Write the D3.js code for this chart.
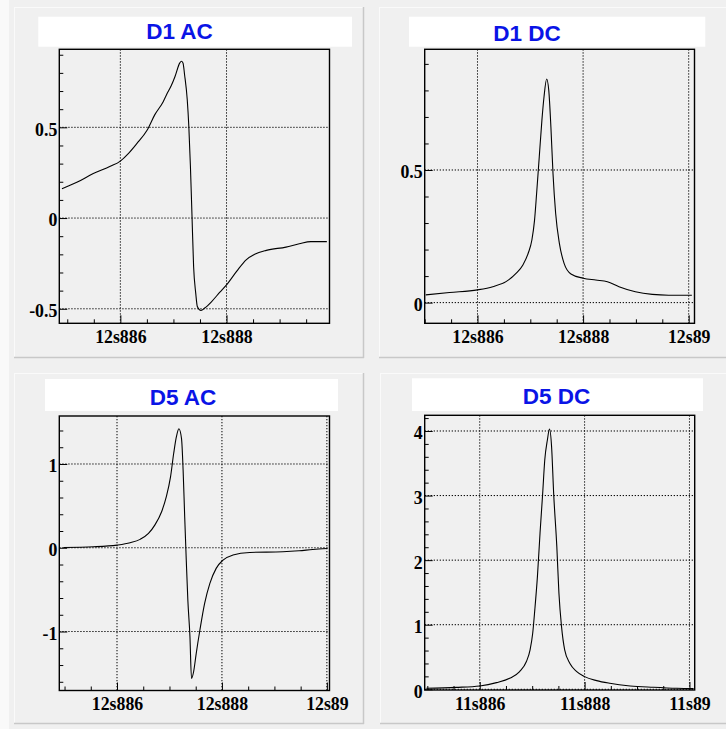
<!DOCTYPE html>
<html>
<head>
<meta charset="utf-8">
<script src="https://cdn.jsdelivr.net/npm/d3@7"></script>
<style>
  html, body { margin: 0; padding: 0; background: #f0f0f0; }
  svg { display: block; }
</style>
</head>
<body>
<svg id="chart" width="726" height="729"></svg>
<script>
// ---------------- DATA ----------------
// x values: milliseconds after the whole second (label prefix gives the seconds)
const panelTitles = ["D1 AC", "D1 DC", "D5 AC", "D5 DC"];
const secondsPrefix = ["12s", "12s", "12s", "11s"];

const d1acT = [884.90, 885.18, 885.49, 885.81, 886.00, 886.15, 886.31, 886.50, 886.65, 886.81, 886.87, 886.96, 887.03, 887.12, 887.15, 887.18, 887.21, 887.26, 887.29, 887.32, 887.35, 887.38, 887.42, 887.45, 887.52, 887.59, 887.72, 887.87, 888.00, 888.19, 888.37, 888.53, 888.75, 889.12, 889.37, 889.59, 889.89];
const d1acV = [0.162, 0.197, 0.245, 0.285, 0.314, 0.355, 0.41, 0.482, 0.57, 0.643, 0.68, 0.73, 0.78, 0.855, 0.864, 0.855, 0.79, 0.653, 0.505, 0.285, 0.009, -0.267, -0.414, -0.487, -0.509, -0.496, -0.46, -0.41, -0.368, -0.294, -0.23, -0.2, -0.178, -0.16, -0.142, -0.13, -0.13];

const d1dcT = [885.02, 885.47, 886.00, 886.29, 886.54, 886.73, 886.86, 886.96, 887.03, 887.08, 887.12, 887.17, 887.22, 887.26, 887.31, 887.35, 887.39, 887.43, 887.48, 887.55, 887.64, 887.77, 888.00, 888.24, 888.46, 888.68, 888.99, 889.31, 889.62, 890.06];
const d1dcV = [0.029, 0.038, 0.048, 0.06, 0.079, 0.11, 0.142, 0.186, 0.236, 0.31, 0.412, 0.55, 0.688, 0.776, 0.843, 0.8, 0.663, 0.487, 0.337, 0.224, 0.148, 0.108, 0.092, 0.085, 0.079, 0.06, 0.041, 0.031, 0.028, 0.028];

const d5acT = [884.98, 885.55, 886.00, 886.25, 886.44, 886.60, 886.72, 886.85, 886.94, 887.02, 887.08, 887.13, 887.18, 887.23, 887.26, 887.29, 887.32, 887.35, 887.39, 887.42, 887.46, 887.51, 887.58, 887.67, 887.77, 887.89, 888.02, 888.21, 888.53, 889.16, 889.47, 889.73, 890.01];
const d5acV = [0.004, 0.012, 0.032, 0.06, 0.1, 0.171, 0.27, 0.43, 0.61, 0.847, 1.125, 1.32, 1.42, 1.30, 0.926, 0.37, -0.147, -0.624, -1.06, -1.56, -1.48, -1.26, -0.982, -0.664, -0.425, -0.246, -0.147, -0.087, -0.056, -0.048, -0.036, -0.02, -0.008];

const d5dcT = [884.98, 885.55, 886.00, 886.32, 886.57, 886.76, 886.89, 886.96, 887.01, 887.05, 887.10, 887.15, 887.20, 887.24, 887.29, 887.33, 887.37, 887.41, 887.47, 887.51, 887.56, 887.62, 887.72, 887.85, 888.00, 888.23, 888.48, 888.87, 889.31, 889.76, 890.08];
const d5dcV = [0.015, 0.03, 0.052, 0.103, 0.17, 0.274, 0.43, 0.61, 0.867, 1.23, 1.745, 2.42, 3.03, 3.55, 3.86, 4.03, 3.76, 3.03, 2.21, 1.49, 0.97, 0.61, 0.40, 0.274, 0.196, 0.134, 0.093, 0.052, 0.031, 0.015, 0.01];

// tick values and labels
const xMajor1 = [886, 888];
const xMajor2 = [886, 888, 890];
const xMsLabels = {886: "886", 888: "888", 890: "89"};
const yMajor1 = [-0.5, 0, 0.5];
const yMajor2 = [0, 0.5];
const yMajor3 = [-1, 0, 1];
const yMajor4 = [0, 1, 2, 3, 4];
const yLabels1 = ["-0.5", "0", "0.5"];
const yLabels2 = ["0", "0.5"];
const yLabels3 = ["-1", "0", "1"];
const yLabels4 = ["0", "1", "2", "3", "4"];

// ---------------- LAYOUT ----------------
const panels = [
  { t: d1acT, v: d1acV, xDom: [884.85, 889.94], yDom: [-0.58, 0.93],
    xMaj: xMajor1, yMaj: yMajor1, yLab: yLabels1, xMinStep: 0.5, yMinor: [-0.5, 0.9, 0.1],
    pad: [14, 7, 364, 358], frame: [59.3, 49.3, 329.5, 323.3],
    box: [38.3, 16.7, 352, 46.7], title: [179.5, 39] },
  { t: d1dcT, v: d1dcV, xDom: [885.0, 890.11], yDom: [-0.078, 0.955],
    xMaj: xMajor2, yMaj: yMajor2, yLab: yLabels2, xMinStep: 0.5, yMinor: [0, 0.9, 0.1],
    pad: [379, 7, 729, 358], frame: [424.7, 49.3, 694.5, 323.3],
    box: [409, 16.7, 705.3, 46.7], title: [527, 41] },
  { t: d5acT, v: d5acV, xDom: [884.9, 890.05], yDom: [-1.704, 1.573],
    xMaj: xMajor2, yMaj: yMajor3, yLab: yLabels3, xMinStep: 0.5, yMinor: [-1.6, 1.4, 0.2],
    pad: [14, 373, 364, 724], frame: [59.3, 416, 329.5, 690.5],
    box: [45, 379, 338, 411], title: [183, 405] },
  { t: d5dcT, v: d5dcV, xDom: [884.95, 890.1], yDom: [-0.011, 4.243],
    xMaj: xMajor2, yMaj: yMajor4, yLab: yLabels4, xMinStep: 0.5, yMinor: [0, 4.2, 0.2],
    pad: [380, 373, 730, 724], frame: [424.7, 415.3, 694.7, 690],
    box: [412, 378.3, 703, 411], title: [556.5, 404.3] }
];

const svg = d3.select("#chart");
svg.append("rect").attr("x", 0).attr("y", 0).attr("width", 726).attr("height", 729).attr("fill", "#f0f0f0");
svg.append("rect").attr("x", 0).attr("y", 0).attr("width", 9).attr("height", 729).attr("fill", "#f9f9f9");

const labelFont = "'Liberation Serif', 'Times New Roman', serif";
const titleFont = "'Liberation Sans', Arial, Helvetica, sans-serif";

panels.forEach((p, i) => {
  const [px0, py0, px1, py1] = p.pad;
  const g = svg.append("g");
  // pad with bevel
  g.append("rect").attr("x", px0).attr("y", py0).attr("width", px1 - px0).attr("height", py1 - py0)
    .attr("fill", "#f0f0f0");
  g.append("line").attr("x1", px0).attr("y1", py0 + 0.5).attr("x2", px1).attr("y2", py0 + 0.5)
    .attr("stroke", "#fafafa").attr("stroke-width", 1);
  g.append("line").attr("x1", px0 + 0.5).attr("y1", py0).attr("x2", px0 + 0.5).attr("y2", py1)
    .attr("stroke", "#fafafa").attr("stroke-width", 1);
  g.append("line").attr("x1", px0).attr("y1", py1 - 0.5).attr("x2", px1).attr("y2", py1 - 0.5)
    .attr("stroke", "#c8c8c8").attr("stroke-width", 1.5);
  g.append("line").attr("x1", px1 - 0.5).attr("y1", py0).attr("x2", px1 - 0.5).attr("y2", py1)
    .attr("stroke", "#c8c8c8").attr("stroke-width", 1.5);

  const [fx0, fy0, fx1, fy1] = p.frame;
  const x = d3.scaleLinear().domain(p.xDom).range([fx0, fx1]);
  const y = d3.scaleLinear().domain(p.yDom).range([fy1, fy0]);

  // frame background
  g.append("rect").attr("x", fx0).attr("y", fy0).attr("width", fx1 - fx0).attr("height", fy1 - fy0)
    .attr("fill", "#f0f0f0");

  // grid
  const gridG = g.append("g").attr("stroke", "#000").attr("stroke-width", 1)
    .attr("stroke-dasharray", "1.3,1.7");
  p.xMaj.forEach(v => {
    gridG.append("line").attr("x1", x(v)).attr("x2", x(v)).attr("y1", fy0).attr("y2", fy1);
  });
  p.yMaj.forEach(v => {
    gridG.append("line").attr("x1", fx0).attr("x2", fx1).attr("y1", y(v)).attr("y2", y(v));
  });

  // minor ticks (x)
  const xMinorVals = d3.range(Math.ceil(p.xDom[0] / p.xMinStep) * p.xMinStep, p.xDom[1] + 1e-9, p.xMinStep)
    .filter(v => !p.xMaj.some(m => Math.abs(m - v) < 1e-6));
  const xMinorAxis = d3.axisBottom(x).tickValues(xMinorVals).tickSizeInner(-4).tickSizeOuter(0).tickFormat("");
  g.append("g").attr("transform", `translate(0,${fy1})`).call(xMinorAxis)
    .call(a => a.select(".domain").remove())
    .selectAll("line").attr("stroke", "#000").attr("stroke-width", 1);

  // major x ticks with labels
  const xMajorAxis = d3.axisBottom(x).tickValues(p.xMaj).tickSizeInner(-8).tickSizeOuter(0)
    .tickPadding(0).tickFormat(v => secondsPrefix[i] + xMsLabels[v]);
  const xa = g.append("g").attr("transform", `translate(0,${fy1})`).call(xMajorAxis);
  xa.select(".domain").remove();
  xa.selectAll("line").attr("stroke", "#000").attr("stroke-width", 1);
  xa.selectAll("text").attr("y", 19.5).attr("dy", null)
    .attr("font-family", labelFont).attr("font-weight", "bold").attr("font-size", "17.8px")
    .attr("fill", "#000");

  // minor y ticks
  const [ym0, ym1, yms] = p.yMinor;
  const yMinorVals = d3.range(ym0, ym1 + 1e-9, yms).map(v => +v.toFixed(6))
    .filter(v => !p.yMaj.some(m => Math.abs(m - v) < 1e-6));
  const yMinorAxis = d3.axisLeft(y).tickValues(yMinorVals).tickSizeInner(-4).tickSizeOuter(0).tickFormat("");
  g.append("g").attr("transform", `translate(${fx0},0)`).call(yMinorAxis)
    .call(a => a.select(".domain").remove())
    .selectAll("line").attr("stroke", "#000").attr("stroke-width", 1);

  // major y ticks with labels
  const yMajorAxis = d3.axisLeft(y).tickValues(p.yMaj).tickSizeInner(-8).tickSizeOuter(0)
    .tickPadding(0).tickFormat((v, k) => p.yLab[k]);
  const ya = g.append("g").attr("transform", `translate(${fx0},0)`).call(yMajorAxis);
  ya.select(".domain").remove();
  ya.selectAll("line").attr("stroke", "#000").attr("stroke-width", 1);
  ya.selectAll("text").attr("x", -2).attr("dy", "0.36em").attr("y", 1.5)
    .attr("font-family", labelFont).attr("font-weight", "bold").attr("font-size", "17.8px")
    .attr("fill", "#000").attr("text-anchor", "end");

  // curve
  const pts = p.t.map((t, k) => [t, p.v[k]]);
  const line = d3.line().x(d => x(d[0])).y(d => y(d[1])).curve(d3.curveMonotoneX);
  g.append("path").datum(pts).attr("d", line).attr("fill", "none")
    .attr("stroke", "#000").attr("stroke-width", 1.1).attr("stroke-linejoin", "round");

  // frame border
  g.append("rect").attr("x", fx0).attr("y", fy0).attr("width", fx1 - fx0).attr("height", fy1 - fy0)
    .attr("fill", "none").attr("stroke", "#000").attr("stroke-width", 1.4);

  // title box
  const [bx0, by0, bx1, by1] = p.box;
  g.append("rect").attr("x", bx0).attr("y", by0).attr("width", bx1 - bx0).attr("height", by1 - by0)
    .attr("fill", "#ffffff");
  g.append("text").attr("x", p.title[0]).attr("y", p.title[1]).attr("text-anchor", "middle")
    .attr("font-family", titleFont).attr("font-weight", "bold").attr("font-size", "22.5px")
    .attr("fill", "#0a14e6").text(panelTitles[i]);
});
</script>
</body>
</html>
